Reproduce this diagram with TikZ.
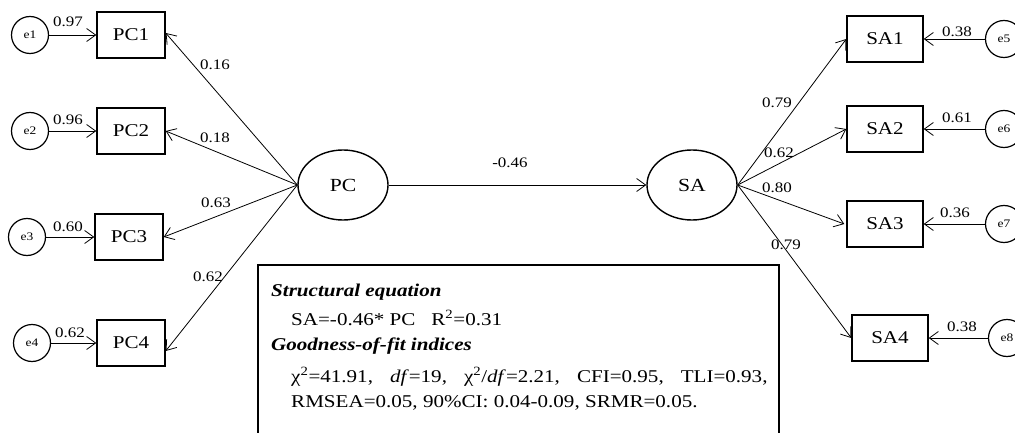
\documentclass[tikz,border=0pt]{standalone}
\usepackage{fontspec}
\setmainfont{Liberation Serif}
\usetikzlibrary{shapes.geometric,arrows.meta}
% the lettering is set slightly wide
\newcommand{\xs}[1]{\scalebox{1.17}[1]{#1}}

\begin{document}
\begin{tikzpicture}[x=1pt,y=-1pt,
  obs/.style={draw,line width=1.4pt,minimum width=68pt,minimum height=46pt,inner sep=0pt,
    font=\fontsize{18}{22}\selectfont},
  sobs/.style={obs,minimum width=76pt},
  latent/.style={draw,ellipse,line width=1.4pt,minimum width=90pt,minimum height=70pt,inner sep=0pt,
    font=\fontsize{18.5}{22}\selectfont},
  err/.style={draw,circle,line width=1.2pt,minimum size=37pt,inner sep=0pt,
    font=\fontsize{11.5}{14}\selectfont},
  path/.style={line width=0.8pt,-{Straight Barb[length=9pt,width=13pt,line width=0.8pt]}},
  coef/.style={inner sep=0pt,font=\fontsize{14.5}{17}\selectfont},
  txt/.style={anchor=base west,inner sep=0pt,font=\fontsize{18}{22}\selectfont}
]
\useasboundingbox (0,0) rectangle (1015,433);

% latent variables
\node[latent] (PC) at (343,185) {\xs{PC}};
\node[latent] (SA) at (692,185) {\xs{SA}};

% indicators of PC and their errors
\node[obs] (PC1) at (131,35)  {\xs{PC1}};
\node[obs] (PC2) at (131,131) {\xs{PC2}};
\node[obs] (PC3) at (129,237) {\xs{PC3}};
\node[obs] (PC4) at (131,343) {\xs{PC4}};
\node[err] (e1) at (30,35)  {\xs{e1}};
\node[err] (e2) at (30,131) {\xs{e2}};
\node[err] (e3) at (27,237) {\xs{e3}};
\node[err] (e4) at (32,343) {\xs{e4}};

% indicators of SA and their errors
\node[sobs] (SA1) at (885,39)  {\xs{SA1}};
\node[sobs] (SA2) at (885,129) {\xs{SA2}};
\node[sobs] (SA3) at (885,224) {\xs{SA3}};
\node[sobs] (SA4) at (890,338) {\xs{SA4}};
\node[err] (e5) at (1004,39)  {\xs{e5}};
\node[err] (e6) at (1004,129) {\xs{e6}};
\node[err] (e7) at (1004,224) {\xs{e7}};
\node[err] (e8) at (1007,338) {\xs{e8}};

% paths
\draw[path] (PC.east) -- (SA.west);
\draw[path] (PC.west) -- ([yshift=2pt]PC1.east);
\draw[path] (PC.west) -- (PC2.east);
\draw[path] (PC.west) -- (PC3.east);
\draw[path] (PC.west) -- ([yshift=-8pt]PC4.east);
\draw[path] (SA.east) -- (SA1.west);
\draw[path] (SA.east) -- (SA2.west);
\draw[path] (SA.east) -- ([xshift=-2pt]SA3.west);
\draw[path] (SA.east) -- (SA4.west);
\foreach \e/\v in {e1/PC1,e2/PC2,e3/PC3,e4/PC4,e5/SA1,e6/SA2,e7/SA3,e8/SA4}
  \draw[path] (\e) -- (\v);

% coefficients
\node[coef] (c1) at (68,22)  {\xs{0.97}};
\node[coef] (c2) at (68,120) {\xs{0.96}};
\node[coef] (c3) at (68,227) {\xs{0.60}};
\node[coef] (c4) at (70,333) {\xs{0.62}};
\node[coef] (l1) at (215,65)  {\xs{0.16}};
\node[coef] (l2) at (215,138) {\xs{0.18}};
\node[coef] (l3) at (216,203) {\xs{0.63}};
\node[coef] (l4) at (208,277) {\xs{0.62}};
\node[coef] (b1) at (510,163) {\xs{-0.46}};
\node[coef] (m1) at (777,103) {\xs{0.79}};
\node[coef] (m2) at (779,153) {\xs{0.62}};
\node[coef] (m3) at (777,188) {\xs{0.80}};
\node[coef] (m4) at (786,245) {\xs{0.79}};
\node[coef] (c5) at (957,32)  {\xs{0.38}};
\node[coef] (c6) at (957,118) {\xs{0.61}};
\node[coef] (c7) at (955,213) {\xs{0.36}};
\node[coef] (c8) at (962,327) {\xs{0.38}};

% summary box
\draw[line width=1.4pt] (258,265) rectangle (779,445);
\node[txt] (h1) at (271,296) {\xs{\textbf{\textit{Structural equation}}}};
\node[txt] (s1) at (291,325) {\xs{SA=-0.46* PC}\hspace{16pt}\xs{R\textsuperscript{2}=0.31}};
\node[txt] (h2) at (271,350) {\xs{\textbf{\textit{Goodness-of-fit indices}}}};
\node[txt] (s2) at (291,382) {\xs{χ\textsuperscript{2}=41.91,}\hspace{17pt}%
  \xs{\textit{df}=19,}\hspace{17pt}%
  \xs{χ\textsuperscript{2}/\textit{df}=2.21,}\hspace{17pt}%
  \xs{CFI=0.95,}\hspace{17pt}\xs{TLI=0.93,}};
\node[txt] (s3) at (291,407) {\xs{RMSEA=0.05, 90\%CI: 0.04-0.09, SRMR=0.05.}};
\end{tikzpicture}
\end{document}
